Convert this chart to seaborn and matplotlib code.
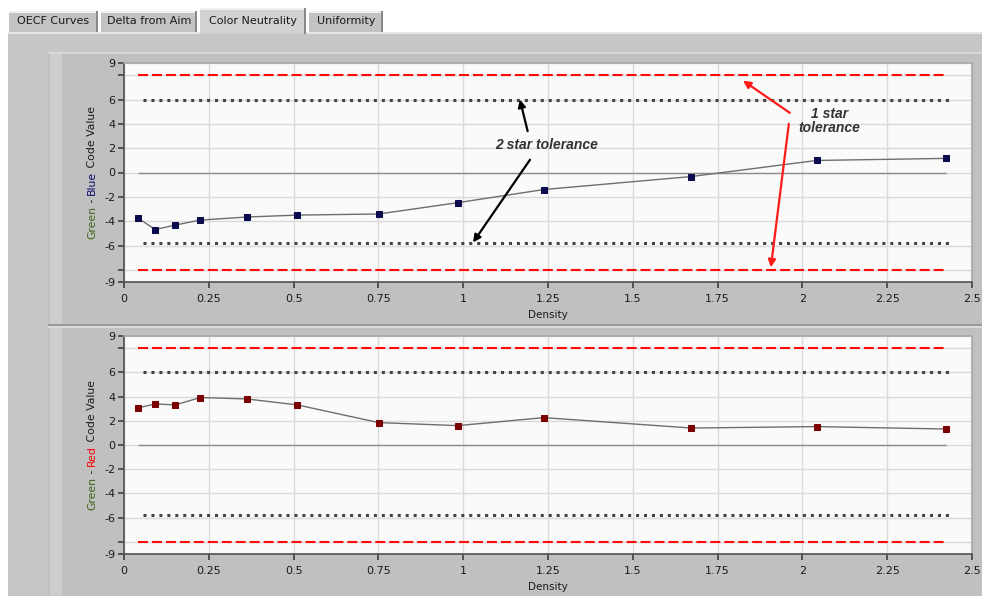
import numpy as np
import pandas as pd
import seaborn as sns
import matplotlib
matplotlib.use("Agg")
import matplotlib.pyplot as plt
from matplotlib.patches import Rectangle

# ---- data -------------------------------------------------------------
density = [0.041, 0.092, 0.151, 0.225, 0.363, 0.511, 0.751, 0.984, 1.238, 1.673, 2.042, 2.423]
green_minus_blue = [-3.74, -4.69, -4.32, -3.91, -3.66, -3.50, -3.41, -2.48, -1.40, -0.33, 0.99, 1.16]
green_minus_red = [3.06, 3.39, 3.31, 3.92, 3.80, 3.31, 1.85, 1.60, 2.26, 1.40, 1.52, 1.32]

one_star_limits = [8.0, -8.0]
two_star_limits = [6.0, -5.8]

x_ticks = [0, 0.25, 0.5, 0.75, 1, 1.25, 1.5, 1.75, 2, 2.25, 2.5]
x_tick_labels = ["0", "0.25", "0.5", "0.75", "1", "1.25", "1.5", "1.75", "2", "2.25", "2.5"]
y_ticks = [9, 8, 6, 4, 2, 0, -2, -4, -6, -8, -9]
y_tick_labels = ["9", "", "6", "4", "2", "0", "-2", "-4", "-6", "", "-9"]

tabs = ["OECF Curves", "Delta from Aim", "Color Neutrality", "Uniformity"]

# ---- style ------------------------------------------------------------
sns.set_theme(style="white")
plt.rcParams["font.family"] = ["DejaVu Sans"]

W, H = 982, 596
fig = plt.figure(figsize=(W / 100, H / 100), dpi=100)
fig.patch.set_facecolor("white")

PANEL = "#c0c0c0"


def px_rect(x0, y0, x1, y1, **kw):
    """Rectangle in figure pixel coordinates measured from the top-left."""
    fig.patches.append(Rectangle((x0 / W, 1 - y1 / H), (x1 - x0) / W, (y1 - y0) / H,
                                 transform=fig.transFigure, **kw))


# window chrome: tab strip and panels
px_rect(8, 32, W, H, facecolor="#c6c6c6", edgecolor="none", zorder=-10)
px_rect(8, 32, W, 34, facecolor="#e6e6e6", edgecolor="none", zorder=-9)
px_rect(48, 52, W, H, facecolor=PANEL, edgecolor="none", zorder=-8)
px_rect(48, 52, W, 54, facecolor="#d8d8d8", edgecolor="none", zorder=-7)
px_rect(50, 54, 62, H, facecolor="#cdcdcd", edgecolor="none", zorder=-7)
px_rect(48, 324, W, 326, facecolor="#9a9a9a", edgecolor="none", zorder=-6)
px_rect(48, 326, W, 328, facecolor="#dadada", edgecolor="none", zorder=-6)

tab_boxes = [(9, 98), (101, 197), (200, 306), (309, 383)]
for i, (name, (x0, x1)) in enumerate(zip(tabs, tab_boxes)):
    selected = name == "Color Neutrality"
    top = 8 if selected else 11
    bottom = 34 if selected else 32
    px_rect(x0, top, x1, bottom, facecolor="#d2d2d2" if selected else "#c3c3c3",
            edgecolor="none", zorder=-5)
    px_rect(x0, top, x1, top + 1.5, facecolor="#f0f0f0", edgecolor="none", zorder=-4)
    px_rect(x1 - 2, top, x1, bottom, facecolor="#8a8a8a", edgecolor="none", zorder=-4)
    fig.text((x0 + x1) / 2 / W, 1 - (top + bottom) / 2 / H, name, ha="center", va="center",
             fontsize=8, color="#1a1a1a")

# ---- axes -------------------------------------------------------------
ax_left, ax_w = 124 / W, 848 / W
ax_top = fig.add_axes([ax_left, 1 - 282 / H, ax_w, 219 / H])
ax_bot = fig.add_axes([ax_left, 1 - 554 / H, ax_w, 218 / H])

panels = [
    (ax_top, green_minus_blue, "#0b0b4d",
     [("Green", "#3c6414"), (" - ", "#1a1a1a"), ("Blue", "#0b0b6e"), (" Code Value", "#1a1a1a")]),
    (ax_bot, green_minus_red, "#7d0000",
     [("Green", "#3c6414"), (" - ", "#1a1a1a"), ("Red", "#ff0000"), (" Code Value", "#1a1a1a")]),
]

x_lo, x_hi = density[0], density[-1]

for ax, values, marker_color, _ in panels:
    ax.set_facecolor("#fafafa")
    ax.set_xlim(0, 2.5)
    ax.set_ylim(-9, 9)
    ax.set_xticks(x_ticks)
    ax.set_xticklabels(x_tick_labels)
    ax.set_yticks(y_ticks)
    ax.set_yticklabels(y_tick_labels)
    ax.grid(True, color="#dadada", lw=1)
    ax.set_axisbelow(True)
    ax.tick_params(axis="both", direction="out", length=4, width=1.2, color="#404040",
                   labelsize=8, labelcolor="#1a1a1a", left=True, bottom=True)
    ax.tick_params(axis="x", pad=5)
    ax.tick_params(axis="y", pad=2)
    for side in ("top", "right"):
        ax.spines[side].set_color("#a8a8a8")
        ax.spines[side].set_linewidth(1.2)
    for side in ("left", "bottom"):
        ax.spines[side].set_color("#505050")
        ax.spines[side].set_linewidth(1.2)

    # tolerance bands over the measured density range
    for lim in one_star_limits:
        ax.hlines(lim, x_lo, x_hi, colors="#ff0a0a", lw=1.5, linestyles=[(0, (4.8, 1.9))], zorder=3)
    for lim in two_star_limits:
        ax.hlines(lim, x_lo + 0.015, x_hi + 0.02, colors="#444444", lw=2.2,
                  linestyles=[(0, (1, 1.6))], zorder=3)
    ax.hlines(0, x_lo, x_hi, colors="#8c8c8c", lw=1, zorder=3)

    df = pd.DataFrame({"Density": density, "value": values})
    sns.lineplot(data=df, x="Density", y="value", ax=ax, color="#6e6e6e", lw=1,
                 marker="s", markersize=4.5, markerfacecolor=marker_color,
                 markeredgecolor=marker_color, zorder=4)
    ax.set_xlabel("Density", fontsize=7.5, color="#1a1a1a", labelpad=4)
    ax.set_ylabel("")

# ---- annotations (upper panel) ---------------------------------------
ann_font = dict(family=["Liberation Sans", "DejaVu Sans"], fontsize=10,
                fontweight="bold", fontstyle="italic", color="#333333")
ax_top.text(1.247, 2.3, "2 star tolerance", ha="center", va="center", zorder=6, **ann_font)
ax_top.text(2.08, 4.2, "1 star\ntolerance", ha="center", va="center", zorder=6,
            linespacing=1.0, **ann_font)

black_arrow = dict(arrowstyle="-|>", color="black", lw=1.6, mutation_scale=11, shrinkA=0, shrinkB=0)
red_arrow = dict(arrowstyle="-|>", color="#ff1a1a", lw=1.6, mutation_scale=11, shrinkA=0, shrinkB=0)
ax_top.annotate("", xy=(1.167, 6.0), xytext=(1.19, 3.4), arrowprops=black_arrow, zorder=6)
ax_top.annotate("", xy=(1.029, -5.75), xytext=(1.197, 1.05), arrowprops=black_arrow, zorder=6)
ax_top.annotate("", xy=(1.825, 7.55), xytext=(1.963, 4.9), arrowprops=red_arrow, zorder=6)
ax_top.annotate("", xy=(1.907, -7.8), xytext=(1.96, 4.0), arrowprops=red_arrow, zorder=6)

# ---- multi-coloured y labels -----------------------------------------
fig.canvas.draw()
renderer = fig.canvas.get_renderer()
label_x_px = 92
for ax, _, _, pieces in panels:
    bbox = ax.get_window_extent(renderer)
    y_center = (bbox.y0 + bbox.y1) / 2
    texts = [fig.text(0, 0, s, rotation=90, ha="center", va="bottom", fontsize=7.8, color=c)
             for s, c in pieces]
    heights = [t.get_window_extent(renderer).height for t in texts]
    y = y_center - sum(heights) / 2
    for t, h in zip(texts, heights):
        t.set_position((label_x_px / W, y / H))
        y += h

fig.savefig("out.png", dpi=100, facecolor=fig.get_facecolor())
